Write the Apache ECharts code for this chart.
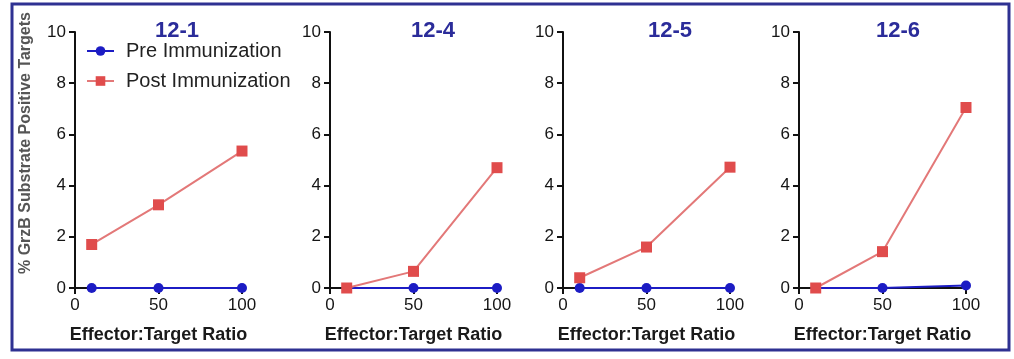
<!DOCTYPE html>
<html>
<head>
<meta charset="utf-8">
<script src="https://cdn.jsdelivr.net/npm/echarts@6/dist/echarts.min.js"></script>
<style>
html,body{margin:0;padding:0;background:#fff;}
#c{width:1014px;height:359px;}
</style>
</head>
<body>
<div id="c"></div>
<script>
// ---- data ----
const ratios = [10, 50, 100];
const panelTitles = ['12-1', '12-4', '12-5', '12-6'];
const pre_12_1 = [0, 0, 0];
const post_12_1 = [1.7, 3.25, 5.35];
const pre_12_4 = [0, 0, 0];
const post_12_4 = [0, 0.65, 4.7];
const pre_12_5 = [0, 0, 0];
const post_12_5 = [0.4, 1.6, 4.72];
const pre_12_6 = [0, 0, 0.1];
const post_12_6 = [0, 1.42, 7.05];
const xTicks = [0, 50, 100];
const yTicks = [0, 2, 4, 6, 8, 10];
const seriesNames = ['Pre Immunization', 'Post Immunization'];
const xName = 'Effector:Target Ratio';
const yName = '% GrzB Substrate Positive Targets';

const preSets = [pre_12_1, pre_12_4, pre_12_5, pre_12_6];
const postSets = [post_12_1, post_12_4, post_12_5, post_12_6];

// ---- layout ----
const gridLefts = [75, 330, 563, 799];
const gridW = 167, gridTop = 32, gridH = 256;
const titleCenters = [172, 428, 665, 893];

const preColor = '#1c1cc4';
const postColor = '#e04c4c';
const postLine = '#e37878';

const grids = [], xAxes = [], yAxes = [], series = [], titles = [];
for (let i = 0; i < 4; i++) {
  grids.push({left: gridLefts[i], top: gridTop, width: gridW, height: gridH, containLabel: false});
  xAxes.push({
    type: 'value', gridIndex: i, min: xTicks[0], max: xTicks[xTicks.length - 1], interval: 50,
    axisLine: {show: true, onZero: false, lineStyle: {color: '#111', width: 2}},
    axisTick: {show: true, inside: false, length: 6, lineStyle: {color: '#111', width: 2}},
    axisLabel: {color: '#151515', fontSize: 17, fontFamily: 'Liberation Sans, Arial', margin: 9},
    splitLine: {show: false},
    name: xName, nameLocation: 'middle', nameGap: 38,
    nameTextStyle: {color: '#1a1a1a', fontSize: 18, fontWeight: 'bold', fontFamily: 'Liberation Sans, Arial'}
  });
  yAxes.push({
    type: 'value', gridIndex: i, min: yTicks[0], max: yTicks[yTicks.length - 1], interval: 2,
    axisLine: {show: true, onZero: false, lineStyle: {color: '#111', width: 2}},
    axisTick: {show: true, inside: false, length: 6, lineStyle: {color: '#111', width: 2}},
    axisLabel: {color: '#151515', fontSize: 17, fontFamily: 'Liberation Sans, Arial', margin: 9},
    splitLine: {show: false}
  });
  titles.push({
    text: panelTitles[i], left: titleCenters[i], top: 15, textAlign: 'center',
    textStyle: {color: '#2b2c9a', fontSize: 22, fontWeight: 'bold', fontFamily: 'Liberation Sans, Arial'}
  });
  series.push({
    name: seriesNames[0], type: 'line', xAxisIndex: i, yAxisIndex: i,
    data: ratios.map((r, k) => [r, preSets[i][k]]),
    symbol: 'circle', symbolSize: 10,
    itemStyle: {color: preColor}, lineStyle: {color: preColor, width: 2},
    z: 3, animation: false
  });
  series.push({
    name: seriesNames[1], type: 'line', xAxisIndex: i, yAxisIndex: i,
    data: ratios.map((r, k) => [r, postSets[i][k]]),
    symbol: 'rect', symbolSize: 11,
    itemStyle: {color: postColor}, lineStyle: {color: postLine, width: 2},
    z: 4, animation: false
  });
}

const chart = echarts.init(document.getElementById('c'), null, {renderer: 'canvas'});
chart.setOption({
  backgroundColor: '#fff',
  animation: false,
  title: titles,
  legend: {
    data: seriesNames, orient: 'vertical', left: 81, top: 36, itemGap: 10,
    itemWidth: 27, itemHeight: 12,
    textStyle: {color: '#222', fontSize: 20, fontFamily: 'Liberation Sans, Arial', padding: [0, 0, 0, 7]}
  },
  grid: grids, xAxis: xAxes, yAxis: yAxes, series: series,
  graphic: [
    {type: 'rect', shape: {x: 12, y: 4, width: 997, height: 346},
     style: {fill: 'none', stroke: '#2e3192', lineWidth: 3}, z: 100},
    {type: 'text', x: 26, y: 143, rotation: Math.PI / 2,
     style: {text: yName, fill: '#555', font: 'bold 16px "Liberation Sans", Arial',
             textAlign: 'center', textVerticalAlign: 'middle'}}
  ]
});
</script>
</body>
</html>
